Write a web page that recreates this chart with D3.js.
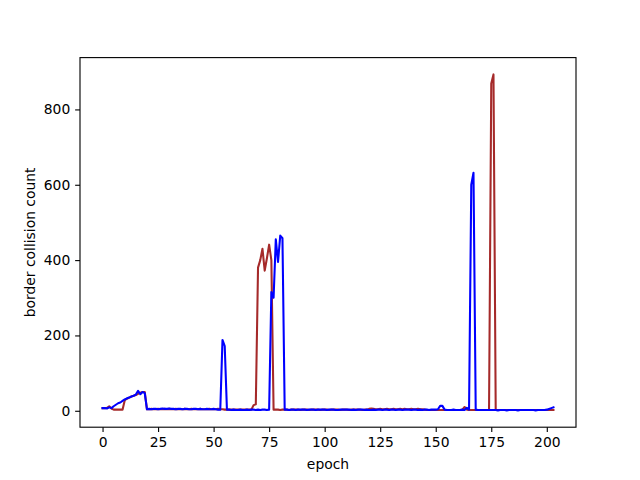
<!DOCTYPE html>
<html>
<head>
<meta charset="utf-8">
<script src="https://cdn.jsdelivr.net/npm/d3@7"></script>
<style>
html, body { margin: 0; padding: 0; background: #fff; }
svg { display: block; }
text { font-family: "DejaVu Sans", sans-serif; }
</style>
</head>
<body>
<div id="chart"></div>
<script>
const xTicks = [0, 25, 50, 75, 100, 125, 150, 175, 200];
const yTicks = [0, 200, 400, 600, 800];
const xLabel = "epoch";
const yLabel = "border collision count";

const brownSeries = [
  7,7,8,12,6,3,3,3,3,3,
  28,32,35,38,40,42,45,48,50,50,
  4,4,5,4,4,5,4,4,5,4,
  5,4,4,5,4,4,4,5,4,4,
  5,4,4,4,5,4,4,4,5,4,
  4,4,5,4,4,3,3,3,3,3,
  3,3,3,3,3,3,3,3,15,17,
  380,400,430,372,405,441,400,3,3,3,
  2,3,3,3,2,3,3,3,3,2,
  3,3,3,2,3,3,3,3,2,3,
  3,3,2,3,3,3,3,2,3,3,
  3,2,3,3,3,3,3,2,3,3,
  5,6,5,4,4,5,4,4,5,4,
  4,5,4,4,5,4,5,4,4,5,
  4,4,5,4,4,3,2,2,2,2,
  2,2,2,2,2,2,2,2,2,2,
  2,2,3,10,3,2,2,2,2,2,
  2,2,2,2,2,869,893,2,2,2,
  2,2,2,2,2,2,2,2,2,2,
  2,2,2,2,2,2,2,2,2,2,
  2,2,2,2
];

const blueSeries = [
  7,7,6,9,7,12,16,20,22,26,
  30,33,35,38,40,43,53,44,50,47,
  4,5,4,5,5,4,5,6,5,5,
  6,5,5,4,5,5,4,5,5,4,
  4,5,5,4,5,4,4,5,4,4,
  5,4,3,3,188,172,3,3,2,3,
  2,2,3,2,2,3,2,3,3,2,
  3,2,3,3,2,3,315,300,455,395,
  465,458,3,3,2,3,3,2,3,3,
  3,3,2,3,3,3,2,3,3,3,
  3,2,3,3,3,2,2,3,3,3,
  3,3,2,3,2,3,3,3,2,3,
  2,2,3,2,3,3,2,3,3,2,
  3,3,2,3,3,2,3,3,3,2,
  3,3,2,3,2,3,3,2,3,3,
  3,4,13,13,3,2,2,2,3,2,
  2,2,3,2,8,3,600,632,3,2,
  2,2,2,2,2,2,2,2,1,2,
  2,2,1,2,2,2,2,1,2,2,
  2,2,2,2,2,1,2,2,2,2,
  3,5,7,9
];

(function () {
  const W = 640, H = 480;
  const mLeft = 80, mRight = 576, mTop = 57.6, mBottom = 427.2;
  const fs = 13.89;

  const svg = d3.select("#chart").append("svg").attr("width", W).attr("height", H);

  const xmin = 0, xmax = brownSeries.length - 1;
  const xpad = (xmax - xmin) * 0.05;
  const allVals = brownSeries.concat(blueSeries);
  const ymin = d3.min(allVals), ymax = d3.max(allVals);
  const ypad = (ymax - ymin) * 0.05;

  const x = d3.scaleLinear().domain([xmin - xpad, xmax + xpad]).range([mLeft, mRight]);
  const y = d3.scaleLinear().domain([ymin - ypad, ymax + ypad]).range([mBottom, mTop]);

  svg.append("clipPath").attr("id", "clip").append("rect")
    .attr("x", mLeft).attr("y", mTop).attr("width", mRight - mLeft).attr("height", mBottom - mTop);

  const line = d3.line().x((d, i) => x(i)).y(d => y(d));

  const g = svg.append("g").attr("clip-path", "url(#clip)");
  g.append("path").datum(brownSeries).attr("d", line)
    .attr("fill", "none").attr("stroke", "#a52a2a").attr("stroke-width", 2.08)
    .attr("stroke-linejoin", "round").attr("stroke-linecap", "square");
  g.append("path").datum(blueSeries).attr("d", line)
    .attr("fill", "none").attr("stroke", "#0000ff").attr("stroke-width", 2.08)
    .attr("stroke-linejoin", "round").attr("stroke-linecap", "square");

  const tickLen = 4.86, tickPad = 4.86;

  const xAxis = svg.append("g").attr("transform", `translate(0,${mBottom})`)
    .call(d3.axisBottom(x).tickValues(xTicks).tickSize(tickLen).tickPadding(tickPad).tickSizeOuter(0));
  const yAxis = svg.append("g").attr("transform", `translate(${mLeft},0)`)
    .call(d3.axisLeft(y).tickValues(yTicks).tickSize(tickLen).tickPadding(tickPad).tickSizeOuter(0));

  [xAxis, yAxis].forEach(a => {
    a.select(".domain").remove();
    a.selectAll(".tick line").attr("stroke", "#000").attr("stroke-width", 1.11);
    a.selectAll(".tick text").attr("fill", "#000")
      .style("font-family", "'DejaVu Sans', sans-serif").style("font-size", fs + "px");
  });

  svg.append("rect").attr("x", mLeft).attr("y", mTop)
    .attr("width", mRight - mLeft).attr("height", mBottom - mTop)
    .attr("fill", "none").attr("stroke", "#000").attr("stroke-width", 1.11);

  svg.append("text").attr("x", (mLeft + mRight) / 2).attr("y", 469)
    .attr("text-anchor", "middle").attr("fill", "#000")
    .style("font-size", fs + "px").text(xLabel);

  svg.append("text")
    .attr("transform", `translate(35,${(mTop + mBottom) / 2}) rotate(-90)`)
    .attr("text-anchor", "middle").attr("fill", "#000")
    .style("font-size", fs + "px").text(yLabel);
})();
</script>
</body>
</html>
